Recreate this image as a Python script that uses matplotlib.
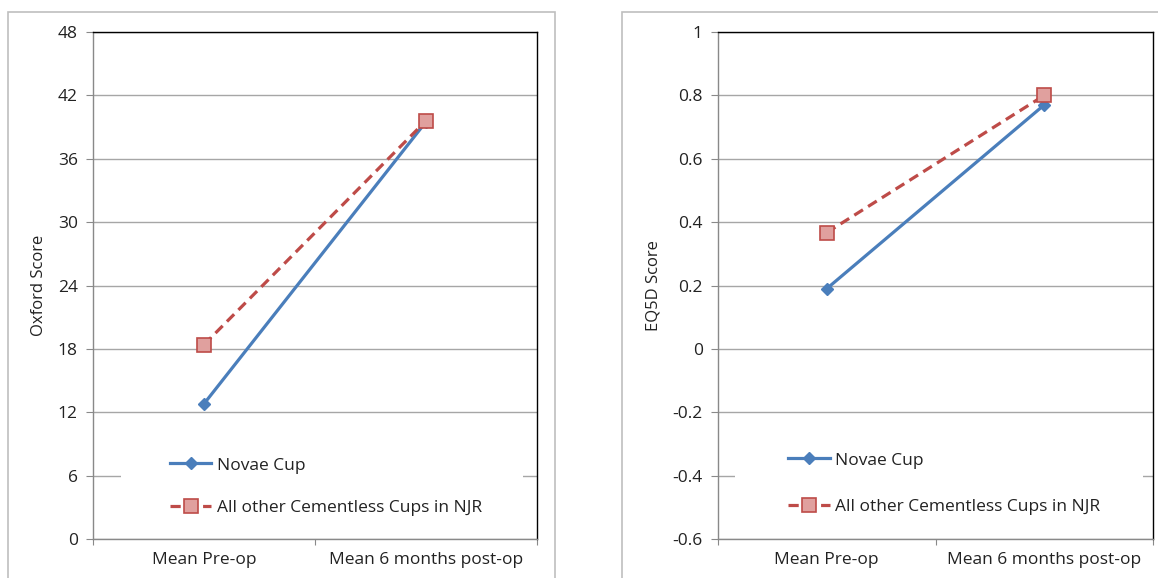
import numpy as np
import matplotlib
matplotlib.use("Agg")
import matplotlib.pyplot as plt
from matplotlib.patches import Rectangle

plt.rcParams['font.family'] = ['Open Sans', 'DejaVu Sans']

categories = ['Mean Pre-op', 'Mean 6 months post-op']
series_names = ['Novae Cup', 'All other Cementless Cups in NJR']

oxford_novae = [12.8, 39.5]
oxford_other = [18.4, 39.6]
oxford_ticks = [0, 6, 12, 18, 24, 30, 36, 42, 48]

eq5d_novae = [0.19, 0.77]
eq5d_other = [0.367, 0.80]
eq5d_ticks = [-0.6, -0.4, -0.2, 0, 0.2, 0.4, 0.6, 0.8, 1]
eq5d_labels = ['-0.6', '-0.4', '-0.2', '0', '0.2', '0.4', '0.6', '0.8', '1']

BLUE = '#4a7ebb'
RED = '#be4b48'
GRID = '#a6a6a6'

W, H = 1158, 578
fig = plt.figure(figsize=(W / 100, H / 100), dpi=100)


def px_axes(left, top, right, bottom):
    return fig.add_axes([left / W, (H - bottom) / H, (right - left) / W, (bottom - top) / H])


def outer_border(left, right):
    fig.add_artist(Rectangle((left / W, -0.1), (right - left) / W, (H - 12) / H + 0.1,
                             transform=fig.transFigure, fill=False,
                             edgecolor='#bfbfbf', linewidth=1.2))


def draw_panel(ax, novae, other, ticks, ticklabels, ylabel, legend_anchor, spacing, white_box):
    x = np.arange(len(categories)) + 0.5
    ax.plot(x, novae, color=BLUE, linewidth=2.3, marker='D', markersize=6.5,
            markerfacecolor=BLUE, markeredgecolor=BLUE, label=series_names[0], zorder=3)
    ax.plot(x, other, color=RED, linewidth=2.3, linestyle=(0, (3.2, 1.9)), marker='s',
            markersize=9.5, markerfacecolor='#e0a09e', markeredgecolor=RED,
            markeredgewidth=1.2, label=series_names[1], zorder=4)

    ax.set_xlim(0, len(categories))
    ax.set_ylim(ticks[0], ticks[-1])
    ax.set_yticks(ticks)
    ax.set_yticklabels(ticklabels)
    ax.set_xticks(np.arange(len(categories) + 1))
    ax.set_xticklabels([])
    ax.set_xticks(x, minor=True)
    ax.set_xticklabels(categories, minor=True)
    ax.tick_params(axis='x', which='minor', length=0, pad=9, labelsize=12.5, colors='#222222')
    ax.tick_params(axis='x', which='major', length=4, color='#898989', direction='out')
    ax.tick_params(axis='y', length=5, color='#898989', pad=6, labelsize=12.5,
                   labelcolor='#222222')

    ax.set_axisbelow(True)
    ax.yaxis.grid(True, color=GRID, linewidth=1.0)
    ax.spines['left'].set_color('#898989')
    ax.spines['bottom'].set_color('#898989')
    ax.spines['top'].set_color('black')
    ax.spines['right'].set_color('black')
    for s in ax.spines.values():
        s.set_linewidth(1.0)

    ax.set_ylabel(ylabel, fontsize=12, color='#222222', labelpad=8)

    ax.add_patch(Rectangle((white_box[0], white_box[1]), white_box[2] - white_box[0],
                           white_box[3] - white_box[1], transform=ax.transAxes,
                           facecolor='white', edgecolor='none', zorder=1))
    leg = ax.legend(loc='center left', bbox_to_anchor=legend_anchor, frameon=False,
                    fontsize=12.5, handlelength=2.4, handletextpad=0.3,
                    labelspacing=spacing, borderpad=0, borderaxespad=0)
    for t in leg.get_texts():
        t.set_color('#222222')


outer_border(8, 555)
outer_border(622, 1200)

ax1 = px_axes(93, 32, 537, 539)
draw_panel(ax1, oxford_novae, oxford_other, oxford_ticks, [str(t) for t in oxford_ticks],
           'Oxford Score', (0.173, 0.1035), 1.5, (0.063, 0.018, 0.968, 0.185))

ax2 = px_axes(718, 32, 1153, 539)
draw_panel(ax2, eq5d_novae, eq5d_other, eq5d_ticks, eq5d_labels,
           'EQ5D Score', (0.161, 0.109), 1.75, (0.039, 0.03, 0.977, 0.2))

fig.savefig('out.png', dpi=100)
